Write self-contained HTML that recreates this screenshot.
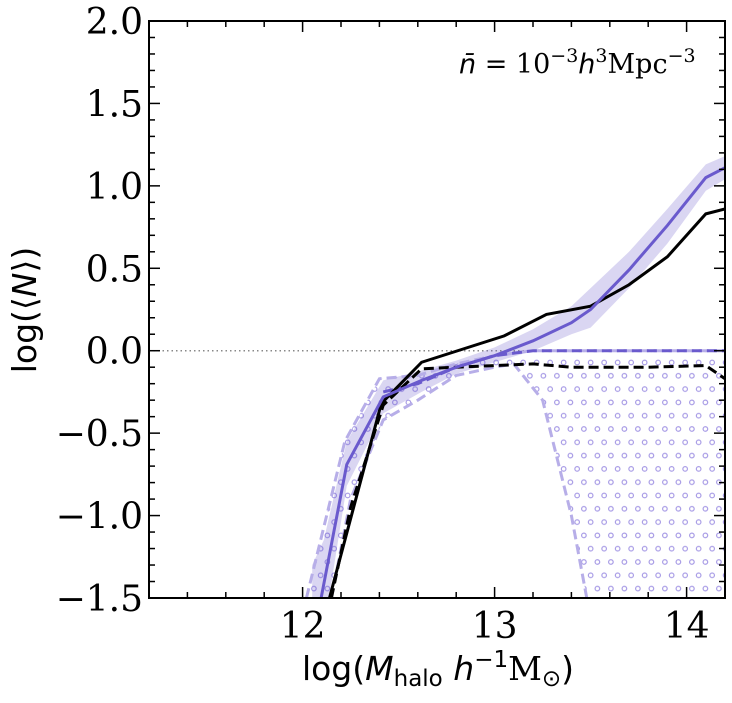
<!DOCTYPE html>
<html><head><meta charset="utf-8"><style>
body{margin:0;background:#fff;}
svg text{font-family:"DejaVu Serif","Liberation Serif",serif;}
</style></head><body>
<svg id="chart" width="732" height="698" xmlns="http://www.w3.org/2000/svg">
<defs>
<pattern id="circ" patternUnits="userSpaceOnUse" width="13.5" height="26.6">
<circle cx="3.4" cy="3.4" r="2.3" fill="none" stroke="#a99de6" stroke-width="1.2"/>
<circle cx="10.15" cy="16.7" r="2.3" fill="none" stroke="#a99de6" stroke-width="1.2"/>
</pattern>
<clipPath id="plotclip"><rect x="149" y="21" width="576" height="577"/></clipPath>
</defs>
<g id="plot" clip-path="url(#plotclip)"></g>
<g id="axes"></g>
<text x="459" y="73" font-size="27"><tspan font-family="DejaVu Sans" font-style="italic">n̄</tspan> = 10<tspan dy="-11" font-size="19">−3</tspan><tspan dy="11" font-family="DejaVu Sans" font-style="italic">h</tspan><tspan dy="-11" font-size="19">3</tspan><tspan dy="11">Mpc</tspan><tspan dy="-11" font-size="19">−3</tspan></text>
<text x="438" y="680" text-anchor="middle" font-size="33" style="font-family:'DejaVu Sans',sans-serif">log(<tspan font-style="italic">M</tspan><tspan font-size="23" dy="6">halo</tspan><tspan dy="-6"> </tspan><tspan font-style="italic">h</tspan><tspan font-size="23" dy="-13">−1</tspan><tspan dy="13" font-family="DejaVu Serif">M</tspan><tspan font-size="23" dy="6">⊙</tspan><tspan dy="-6">)</tspan></text>
<text transform="translate(36,310) rotate(-90)" text-anchor="middle" font-size="33" style="font-family:'DejaVu Sans',sans-serif">log(⟨<tspan font-style="italic">N</tspan>⟩)</text>
</svg>
<script>
const xTicks=[12,13,14];
const yTicks=[-1.5,-1.0,-0.5,0.0,0.5,1.0,1.5,2.0];
const yTickLabels=["−1.5","−1.0","−0.5","0.0","0.5","1.0","1.5","2.0"];
const bandX=[12.05,12.11,12.23,12.42,12.62,12.8,13.0,13.2,13.4,13.5,13.7,13.9,14.1,14.2];
const bandUpper=[-1.3,-1.15,-0.55,-0.18,-0.12,-0.06,0.02,0.13,0.27,0.38,0.6,0.86,1.13,1.18];
const bandLower=[-1.8,-1.7,-0.82,-0.38,-0.25,-0.14,-0.07,0.0,0.1,0.14,0.38,0.65,0.97,1.04];
const allX=[12.08,12.23,12.42,12.62,12.8,13.0,13.2,13.4,13.5,13.7,13.9,14.1,14.2];
const allY=[-1.6,-0.69,-0.28,-0.18,-0.1,-0.03,0.06,0.17,0.25,0.49,0.76,1.05,1.11];
const blackAllX=[12.14,12.41,12.62,13.05,13.27,13.5,13.7,13.9,14.1,14.2];
const blackAllY=[-1.5,-0.32,-0.07,0.09,0.22,0.27,0.4,0.57,0.83,0.86];
const blackCenX=[12.15,12.25,12.42,12.62,12.8,13.0,13.2,13.4,13.6,13.8,14.1,14.2];
const blackCenY=[-1.5,-0.95,-0.33,-0.11,-0.1,-0.09,-0.08,-0.1,-0.1,-0.1,-0.09,-0.17];
const cenX=[12.42,12.6,12.8,13.0,13.2,14.2];
const cenY=[-0.25,-0.2,-0.1,-0.03,0,0];
const hiX=[12.02,12.22,12.4,12.6,12.8,13.0,13.2,14.2];
const hiY=[-1.5,-0.55,-0.17,-0.15,-0.08,-0.03,0,0];
const loX=[12.15,12.25,12.42,12.6,12.8,13.0,13.1,13.25,13.4,13.48];
const loY=[-1.5,-0.9,-0.42,-0.3,-0.15,-0.1,-0.08,-0.3,-1.0,-1.5];
const X0=11.2,X1=14.2,Y0=-1.5,Y1=2.0,L=149,R=725,T=21,B=598;
const sx=v=>L+(v-X0)/(X1-X0)*(R-L);
const sy=v=>B-(v-Y0)/(Y1-Y0)*(B-T);
const NS="http://www.w3.org/2000/svg";
const plot=document.getElementById('plot'),axes=document.getElementById('axes');
function mk(tag,attrs,parent){const e=document.createElementNS(NS,tag);for(const k in attrs)e.setAttribute(k,attrs[k]);parent.appendChild(e);return e;}
const pts=(xs,ys)=>xs.map((x,i)=>sx(x)+','+sy(ys[i])).join(' ');
let e;
e=mk('line',{x1:L,x2:R,y1:sy(0),y2:sy(0),stroke:'#888','stroke-width':1.5,'stroke-dasharray':'1.5,3'},plot);


const hatchPts=pts(hiX,hiY)+' '+sx(14.2)+','+sy(-1.5)+' '+loX.slice().reverse().map((x,i)=>sx(x)+','+sy(loY.slice().reverse()[i])).join(' ');
e=mk('polygon',{points:hatchPts,fill:'url(#circ)',stroke:'none'},plot);


e=mk('polygon',{points:pts(bandX,bandUpper)+' '+bandX.slice().reverse().map((x,i)=>sx(x)+','+sy(bandLower.slice().reverse()[i])).join(' '),fill:'rgba(106,90,205,0.25)',stroke:'none'},plot);


e=mk('polyline',{points:pts(hiX,hiY),fill:'none',stroke:'#b7aee8','stroke-width':3,'stroke-dasharray':'10,5'},plot);


e=mk('polyline',{points:pts(loX,loY),fill:'none',stroke:'#b7aee8','stroke-width':3,'stroke-dasharray':'10,5'},plot);


e=mk('polyline',{points:pts(cenX,cenY),fill:'none',stroke:'#6a5acd','stroke-width':3,'stroke-dasharray':'10,5'},plot);


e=mk('polyline',{points:pts(blackCenX,blackCenY),fill:'none',stroke:'#000','stroke-width':3,'stroke-dasharray':'10,5'},plot);


e=mk('polyline',{points:pts(blackAllX,blackAllY),fill:'none',stroke:'#000','stroke-width':3},plot);


e=mk('polyline',{points:pts(allX,allY),fill:'none',stroke:'#6a5acd','stroke-width':3},plot);


e=mk('rect',{x:L,y:T,width:R-L,height:B-T,fill:'none',stroke:'#000','stroke-width':2},axes);


for(let v=11.2;v<=14.2001;v+=0.2){const x=sx(v);const major=Math.abs(v-Math.round(v))<1e-6;const len=major?11:6;
 mk('line',{x1:x,x2:x,y1:B,y2:B-len,stroke:'#000','stroke-width':1.5},axes);
 mk('line',{x1:x,x2:x,y1:T,y2:T+len,stroke:'#000','stroke-width':1.5},axes);}
for(let v=-1.5;v<=2.0001;v+=0.1){const y=sy(v);const major=Math.abs(v*2-Math.round(v*2))<1e-6;const len=major?11:6;
 mk('line',{x1:L,x2:L+len,y1:y,y2:y,stroke:'#000','stroke-width':1.5},axes);
 mk('line',{x1:R,x2:R-len,y1:y,y2:y,stroke:'#000','stroke-width':1.5},axes);}
xTicks.forEach(v=>{e=mk('text',{x:sx(v),y:B+40,'text-anchor':'middle','font-size':36},axes);e.textContent=String(v);

});
yTicks.forEach((v,i)=>{e=mk('text',{x:L-6,y:sy(v)+13,'text-anchor':'end','font-size':36},axes);e.textContent=yTickLabels[i];

});
</script>
</body></html>
